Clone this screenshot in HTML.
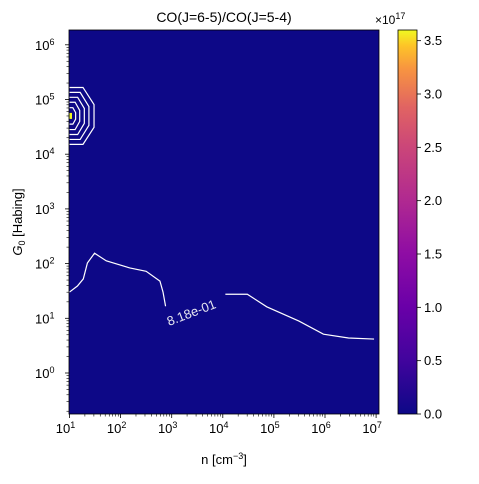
<!DOCTYPE html>
<html><head><meta charset="utf-8"><style>
body{margin:0;background:#fff}
svg text{font-family:"Liberation Sans","DejaVu Sans",sans-serif;fill:#000}
</style></head><body>
<svg id="c" width="479" height="479" viewBox="0 0 479 479" xmlns="http://www.w3.org/2000/svg">
<defs><linearGradient id="pl" x1="0" y1="1" x2="0" y2="0">
<stop offset="0" stop-color="#0d0887"/><stop offset="0.14" stop-color="#41049d"/><stop offset="0.28" stop-color="#6a00a8"/><stop offset="0.42" stop-color="#8f0da4"/><stop offset="0.56" stop-color="#b12a90"/><stop offset="0.7" stop-color="#cc4778"/><stop offset="0.8" stop-color="#e16462"/><stop offset="0.9" stop-color="#f89540"/><stop offset="0.96" stop-color="#fdc527"/><stop offset="1" stop-color="#f0f921"/></linearGradient></defs>
<text x="224" y="22" font-size="14" text-anchor="middle">CO(J=6-5)/CO(J=5-4)</text>
<rect x="69" y="30" width="310" height="384" fill="#0d0887"/>
<g id="cont" fill="none" stroke="#fff" stroke-width="1.2"></g>
<g id="ax"></g>
<rect x="69" y="30" width="310" height="384" fill="none" stroke="#000" stroke-width="0.8"/>
<rect x="398" y="30" width="19" height="384" fill="url(#pl)" stroke="#000" stroke-width="0.8"/>
<g id="cb"></g>
<text x="375" y="24" font-size="12">×10<tspan dy="-5" font-size="9">17</tspan></text>
<text x="224" y="464" font-size="13" text-anchor="middle">n [cm<tspan dy="-5" font-size="9">−3</tspan><tspan dy="5">]</tspan></text>
<text transform="translate(22,222) rotate(-90)" font-size="13" text-anchor="middle"><tspan font-style="italic">G</tspan><tspan dy="3" font-size="9">0</tspan><tspan dy="-3"> [Habing]</tspan></text>
</svg>
<script>
const xDecades=[1,2,3,4,5,6,7];
const yDecades=[0,1,2,3,4,5,6];
const cbTicks=[0,0.5,1,1.5,2,2.5,3,3.5];
const contourLogN=[1,1.155,1.27,1.35,1.49,1.72,2.18,2.5,2.77,2.83,2.88];
const contourLogG=[1.48,1.59,1.72,2.01,2.19,2.05,1.92,1.86,1.68,1.48,1.22];
const contour2LogN=[4.05,4.48,4.86,5.49,5.97,6.46,6.96];
const contour2LogG=[1.44,1.44,1.21,0.95,0.71,0.64,0.62];
const peakLogG=[4.7];
const ringHalfWidths=[0.48,0.38,0.29,0.2,0.12];
const ringHalfHeights=[0.52,0.43,0.34,0.25,0.15];
const X=v=>69.5+(v-1)*51.1, Y=v=>373-v*54.7;
const CB=v=>414-v*384/3.6;
const NS='http://www.w3.org/2000/svg';
function mk(t,a,p){const e=document.createElementNS(NS,t);for(const k in a)e.setAttribute(k,a[k]);p.appendChild(e);return e;}
const ax=document.getElementById('ax'),cont=document.getElementById('cont'),cb=document.getElementById('cb');
xDecades.forEach(d=>{
 const l=mk('line',{x1:X(d),x2:X(d),y1:414,y2:418,stroke:'#000','stroke-width':0.8},ax);
 
 
 const t=mk('text',{x:X(d)-4,y:433,'font-size':13,'text-anchor':'middle'},ax);
 
 
 t.innerHTML='10<tspan dy="-5" font-size="9">'+d+'</tspan>';
 if(d<7)for(let k=2;k<10;k++){const m=mk('line',{x1:X(d+Math.log10(k)),x2:X(d+Math.log10(k)),y1:414,y2:416.5,stroke:'#000','stroke-width':0.6},ax);
 
 }
});
for(let d=-1;d<=6;d++){
 for(let k=2;k<10;k++){const v=d+Math.log10(k);const y=Y(v);if(y<30||y>414)continue;
 const m=mk('line',{x1:66.5,x2:69,y1:y,y2:y,stroke:'#000','stroke-width':0.6},ax);
 
 }
}
yDecades.forEach(d=>{
 const l=mk('line',{x1:65,x2:69,y1:Y(d),y2:Y(d),stroke:'#000','stroke-width':0.8},ax);
 
 
 const t=mk('text',{x:35,y:Y(d)+5,'font-size':13},ax);
 
 
 t.innerHTML='10<tspan dy="-5" font-size="9">'+d+'</tspan>';
});
cbTicks.forEach(v=>{
 const l=mk('line',{x1:417,x2:421,y1:CB(v),y2:CB(v),stroke:'#000','stroke-width':0.8},cb);
 
 
 const t=mk('text',{x:424,y:CB(v)+4.5,'font-size':13},cb);
 
 
 t.textContent=v.toFixed(1);
});
const p1=mk('polyline',{points:contourLogN.map((n,i)=>X(n)+','+Y(contourLogG[i])).join(' ')},cont);


const p2=mk('polyline',{points:contour2LogN.map((n,i)=>X(n)+','+Y(contour2LogG[i])).join(' ')},cont);


const lab=mk('text',{x:0,y:0,'font-size':13,transform:'translate(169,326) rotate(-21)',stroke:'none',style:'fill:#e6e6f0'},cont);


lab.textContent='8.18e-01';
const cy=Y(peakLogG[0]);
ringHalfWidths.forEach((w,i)=>{
 const h=ringHalfHeights[i],x0=X(1),x1=X(1+w),xm=X(1+w*0.55);
 const r=mk('polyline',{points:[[x0,cy-h*54.7],[xm,cy-h*54.7],[x1,cy-h*0.4*54.7],[x1,cy+h*0.4*54.7],[xm,cy+h*54.7],[x0,cy+h*54.7]].map(p=>p.join(',')).join(' ')},cont);
 
 
});
const pk=mk('rect',{x:69.5,y:cy-3,width:2.5,height:6,fill:'#f0f921',stroke:'none'},cont);


</script>
</body></html>
